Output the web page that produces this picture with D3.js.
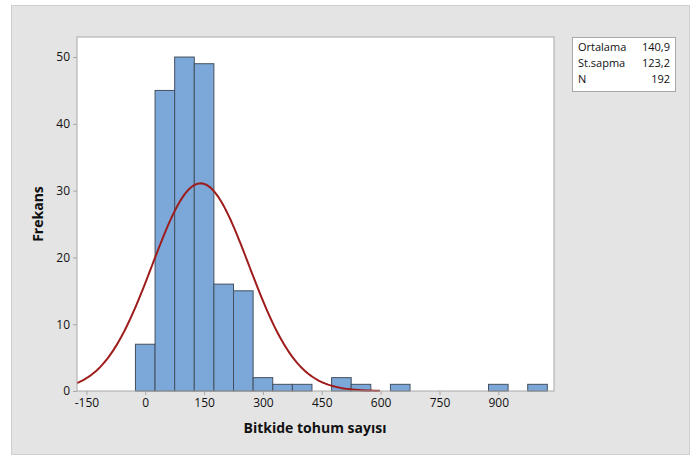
<!DOCTYPE html>
<html>
<head>
<meta charset="utf-8">
<script src="https://cdn.jsdelivr.net/npm/d3@7"></script>
<style>
  body { margin: 0; background: #fff; }
  text { font-family: "Open Sans", "Noto Sans", sans-serif; }
</style>
</head>
<body>
<svg class="entry-point"></svg>
<script>
/* data */
const binMids = [0, 50, 100, 150, 200, 250, 300, 350, 400, 450, 500, 550, 600, 650, 700, 750, 800, 850, 900, 950, 1000]
const counts  = [7, 45, 50, 49, 16, 15, 2, 1, 1, 0, 2, 1, 0, 1, 0, 0, 0, 0, 1, 0, 1]
const xTicks = [-150, 0, 150, 300, 450, 600, 750, 900]
const yTicks = [0, 10, 20, 30, 40, 50]
const statLabels = ['Ortalama', 'St.sapma', 'N']
const statValues = ['140,9', '123,2', '192']
const mean = 140.9, sd = 123.2, n = 192, binW = 50

const W = 697, H = 458
const svg = d3.select('.entry-point').attr('width', W).attr('height', H)

// gray panel
svg.append('rect')
  .attr('x', 11.5).attr('y', 5.5).attr('width', 678).attr('height', 449)
  .attr('fill', '#e4e4e4').attr('stroke', '#cfcfcf')

const frame = { left: 77, top: 37, right: 554, bottom: 391 }
const x = d3.scaleLinear().domain([-174, 1042]).range([frame.left, frame.right])
const y = d3.scaleLinear().domain([0, 53]).range([frame.bottom, frame.top])

svg.append('rect')
  .attr('x', frame.left).attr('y', frame.top)
  .attr('width', frame.right - frame.left).attr('height', frame.bottom - frame.top)
  .attr('fill', '#fff')

// bars
svg.append('g').selectAll('rect')
  .data(binMids.map((m, i) => ({ m, c: counts[i] })).filter(d => d.c > 0))
  .enter().append('rect')
  .attr('x', d => x(d.m - binW / 2))
  .attr('width', d => x(d.m + binW / 2) - x(d.m - binW / 2))
  .attr('y', d => y(d.c))
  .attr('height', d => y(0) - y(d.c))
  .attr('fill', '#7ba7d9')
  .attr('stroke', '#44505e')
  .attr('stroke-width', 1)

// normal fit
const dens = v => n * binW / (sd * Math.sqrt(2 * Math.PI)) * Math.exp(-0.5 * ((v - mean) / sd) ** 2)
const pts = d3.range(-174, 600.01, 4).map(v => [v, dens(v)])
svg.append('path')
  .datum(pts)
  .attr('d', d3.line().x(d => x(d[0])).y(d => y(d[1])))
  .attr('fill', 'none')
  .attr('stroke', '#9e1c1c')
  .attr('stroke-width', 2)

// frame border
svg.append('rect')
  .attr('x', frame.left).attr('y', frame.top)
  .attr('width', frame.right - frame.left).attr('height', frame.bottom - frame.top)
  .attr('fill', 'none').attr('stroke', '#a8a8a8')

// axes
const xAxis = svg.append('g')
  .attr('transform', `translate(0,${frame.bottom})`)
  .call(d3.axisBottom(x).tickValues(xTicks).tickFormat(d => String(d)).tickSize(4).tickPadding(3))
const yAxis = svg.append('g')
  .attr('transform', `translate(${frame.left},0)`)
  .call(d3.axisLeft(y).tickValues(yTicks).tickFormat(d => String(d)).tickSize(4).tickPadding(3))
;[xAxis, yAxis].forEach(a => {
  a.select('.domain').remove()
  a.selectAll('.tick line').attr('stroke', '#a8a8a8')
  a.selectAll('.tick text').attr('font-size', '12px').attr('fill', '#111')
    .style('font-family', '"Open Sans", sans-serif')
})

svg.append('text')
  .attr('x', 315).attr('y', 433)
  .attr('text-anchor', 'middle')
  .attr('font-size', '14px').attr('font-weight', 'bold').attr('fill', '#111')
  .text('Bitkide tohum sayısı')

svg.append('text')
  .attr('transform', 'translate(43,214) rotate(-90)')
  .attr('text-anchor', 'middle')
  .attr('font-size', '14px').attr('font-weight', 'bold').attr('fill', '#111')
  .text('Frekans')

// stats box
const box = svg.append('g')
box.append('rect')
  .attr('x', 572.5).attr('y', 37.5).attr('width', 103).attr('height', 54)
  .attr('fill', '#fff').attr('stroke', '#a8a8a8')
statLabels.forEach((s, i) => {
  box.append('text').attr('x', 578).attr('y', 51 + i * 16)
    .attr('font-size', '11px').attr('fill', '#111').text(s)
  box.append('text').attr('x', 670).attr('y', 51 + i * 16)
    .attr('text-anchor', 'end')
    .attr('font-size', '11px').attr('fill', '#111').text(statValues[i])
})
</script>
</body>
</html>
